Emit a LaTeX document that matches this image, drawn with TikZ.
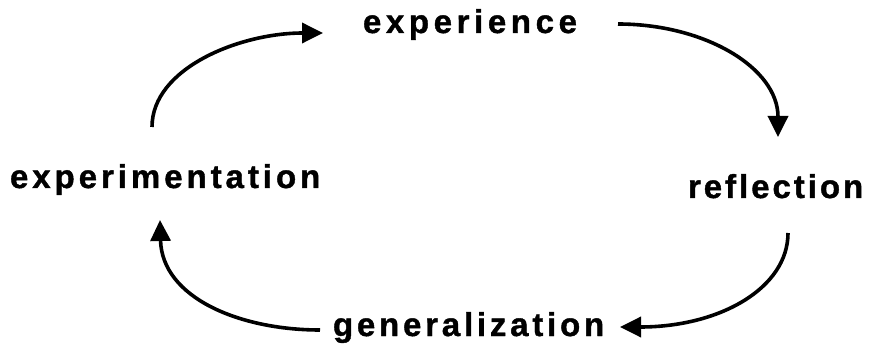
\documentclass[tikz,border=0pt]{standalone}
\usepackage{fontspec}
\setmainfont{Liberation Sans}
\usetikzlibrary{arrows.meta}
\tikzset{
  lbl/.style={anchor=base west, inner sep=0pt, outer sep=0pt, font=\bfseries\fontsize{33}{38}\selectfont},
  cyc/.style={line width=3.6pt, -{Triangle[length=21pt,width=20pt]}}
}
\begin{document}
\begin{tikzpicture}[x=1pt,y=1pt]
\useasboundingbox (0,0) rectangle (870,348);
\node[lbl] (exp) at (363,315) {\addfontfeature{LetterSpace=14,FakeBold=1.2}experience};
\node[lbl] (ref) at (688,150) {\addfontfeature{LetterSpace=9,FakeBold=1.2}reflection};
\node[lbl] (gen) at (333,12) {\addfontfeature{LetterSpace=11.5,FakeBold=1.2}generalization};
\node[lbl] (ext) at (10,160) {\addfontfeature{LetterSpace=12,FakeBold=1.2}experimentation};
\coordinate (a1s) at (152,221);
\coordinate (a1e) at (323,315);
\coordinate (a2s) at (618,324);
\coordinate (a2e) at (778,211);
\coordinate (a3s) at (788,115);
\coordinate (a3e) at (620,21);
\coordinate (a4s) at (320,18);
\coordinate (a4e) at (160,128);
\draw[cyc] (a1s) .. controls (152,280) and (240,315) .. (a1e);
\draw[cyc] (a2s) .. controls (705,324) and (778,280) .. (a2e);
\draw[cyc] (a3s) .. controls (788,60) and (720,21) .. (a3e);
\draw[cyc] (a4s) .. controls (240,18) and (162,50) .. (a4e);
\end{tikzpicture}
\end{document}
